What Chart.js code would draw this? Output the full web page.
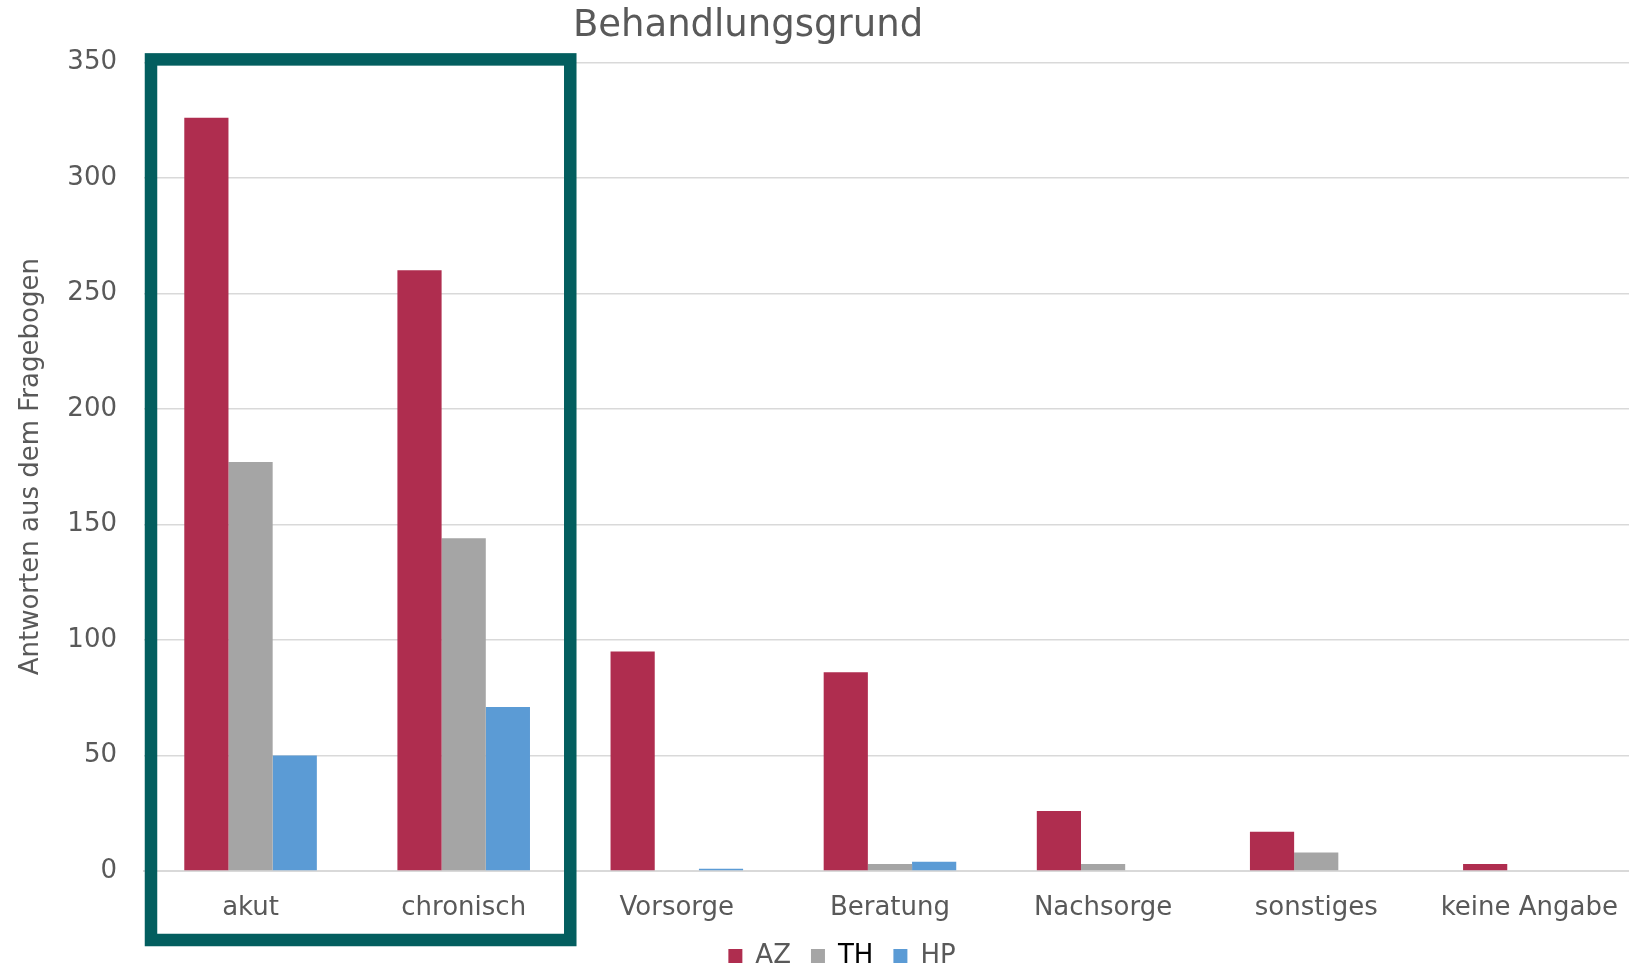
<!DOCTYPE html>
<html>
<head>
<meta charset="utf-8">
<script src="https://cdn.jsdelivr.net/npm/chart.js@4/dist/chart.umd.min.js"></script>
<style>
  html, body { margin: 0; padding: 0; background: #fff; overflow: hidden; }
  /* the original plot runs a little past the right and bottom edge */
  #wrap { width: 1629px; height: 970px; overflow: hidden; }
</style>
</head>
<body>
<div id="wrap"><canvas id="myChart" width="1640" height="979"></canvas></div>
<script>
const categories = ['akut', 'chronisch', 'Vorsorge', 'Beratung', 'Nachsorge', 'sonstiges', 'keine Angabe'];
const azValues = [326, 260, 95, 86, 26, 17, 3];
const thValues = [177, 144, 0, 3, 3, 8, 0];
const hpValues = [50, 71, 1, 4, 0, 0, 0];
const seriesNames = ['AZ', 'TH', 'HP'];
const yMax = 350;
const yStep = 50;

const grey = '#595959';
Chart.defaults.font.family = '"DejaVu Sans", Verdana, sans-serif';
Chart.defaults.color = grey;

// green frame round the first two groups
const frameBox = {
    id: 'frameBox',
    afterDatasetsDraw(chart) {
        const {ctx, chartArea, scales: {x}} = chart;
        const catW = (x.right - x.left) / categories.length;
        const left = x.left + 7;
        const right = x.getPixelForValue(1) + catW / 2;
        const top = chartArea.top - 3;
        const bottom = chartArea.bottom + 69;
        ctx.save();
        ctx.strokeStyle = '#035E5F';
        ctx.lineWidth = 12.5;
        ctx.strokeRect(left, top, right - left, bottom - top);
        ctx.restore();
    }
}

// title sits left of the middle, legend a bit right of it in the original
const shiftBlocks = {
    id: 'shiftBlocks',
    afterLayout(chart) {
        const t = chart.titleBlock;
        if (t) { t.left = 0; t.right = 1496; }
        const l = chart.legend;
        if (l) { l.left += 22; l.right += 22; }
    }
}

new Chart(document.getElementById('myChart'), {
    type: 'bar',
    data: {
        labels: categories,
        datasets: [
            { label: seriesNames[0], data: azValues, backgroundColor: '#AF2D4F' },
            { label: seriesNames[1], data: thValues, backgroundColor: '#A5A5A5' },
            { label: seriesNames[2], data: hpValues, backgroundColor: '#5B9BD5' }
        ]
    },
    options: {
        responsive: false,
        animation: false,
        maintainAspectRatio: false,
        categoryPercentage: 0.622,
        barPercentage: 1,
        layout: { padding: 0 },
        plugins: {
            tooltip: { enabled: false },
            title: {
                display: true,
                text: 'Behandlungsgrund',
                color: grey,
                font: { size: 37, weight: 'normal' },
                padding: { top: 4, bottom: 14 }
            },
            legend: {
                position: 'bottom',
                labels: {
                    boxWidth: 14,
                    boxHeight: 14,
                    padding: 20,
                    font: { size: 26 },
                    color: grey,
                    generateLabels(chart) {
                        const items = Chart.defaults.plugins.legend.labels.generateLabels(chart);
                        items.forEach(it => {
                            it.lineWidth = 0;
                            it.fontColor = it.text === 'TH' ? '#000' : grey;
                        });
                        return items;
                    }
                }
            }
        },
        scales: {
            x: {
                grid: { display: false, drawTicks: false },
                border: { display: true, color: '#d9d9d9', width: 2 },
                ticks: { padding: 22, font: { size: 26 }, color: grey, maxRotation: 0 },
                afterFit(scale) { scale.height = 52; }
            },
            y: {
                min: 0,
                max: yMax,
                ticks: { stepSize: yStep, padding: 27, font: { size: 26 }, color: grey },
                grid: { color: '#d9d9d9', lineWidth: 1.5, drawTicks: false },
                border: { display: false },
                title: {
                    display: true,
                    text: 'Antworten aus dem Fragebogen',
                    color: grey,
                    font: { size: 26 },
                    padding: { top: 16, bottom: 10 }
                },
                afterFit(scale) { scale.width = 144; }
            }
        }
    },
    plugins: [frameBox, shiftBlocks]
});
</script>
</body>
</html>
